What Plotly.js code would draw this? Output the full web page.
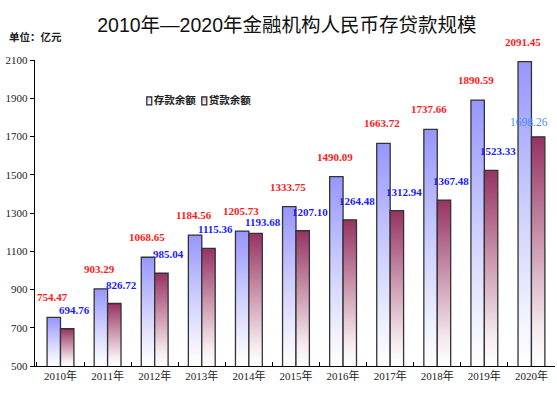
<!DOCTYPE html>
<html>
<head>
<meta charset="utf-8">
<script src="https://cdn.plot.ly/plotly-3.0.1.min.js"></script>
<style>
html,body{margin:0;padding:0;background:#fff;}
#chart{width:557px;height:393px;}
</style>
</head>
<body>
<div id="chart"></div>
<script>
const years = ['2010年','2011年','2012年','2013年','2014年','2015年','2016年','2017年','2018年','2019年','2020年'];
const deposits = [754.47, 903.29, 1068.65, 1184.56, 1205.73, 1333.75, 1490.09, 1663.72, 1737.66, 1890.59, 2091.45];
const loans = [694.76, 826.72, 985.04, 1115.36, 1193.68, 1207.10, 1264.48, 1312.94, 1367.48, 1523.33, 1698.26];
const seriesNames = ['存款余额', '贷款余额'];

const numFont = 'Liberation Serif, Times New Roman, serif';
const cjkFont = 'Noto Sans CJK SC, sans-serif';

const traces = [
  {type:'bar', name: '<b>' + seriesNames[0] + '</b>', x: years, y: deposits,
   marker:{color:'#9999ff', line:{color:'#333333', width:1.3}}, hoverinfo:'none'},
  {type:'bar', name: '<b>' + seriesNames[1] + '</b>', x: years, y: loans,
   marker:{color:'#993366', line:{color:'#333333', width:1.3}}, hoverinfo:'none'}
];

// pixel scale of the y axis (plot height 306 px over 1600 units) used to keep labels apart
const pxPerUnit = 306 / 1600;
const annotations = [];
years.forEach((yr, i) => {
  annotations.push({x: yr, y: deposits[i], text: '<b>' + deposits[i].toFixed(2) + '</b>',
    showarrow:false, xshift:-8, yshift:20, yanchor:'middle', xanchor:'center',
    font:{family:numFont, size:11, color:'#ff1a1a'}});
  const last = i === years.length - 1;
  let ys = 19;
  const sep = (deposits[i] - loans[i]) * pxPerUnit + 20 - ys;
  if (sep < 11) ys = (deposits[i] - loans[i]) * pxPerUnit + 20 - 11;
  annotations.push({x: yr, y: loans[i], text: last ? loans[i].toFixed(2) : '<b>' + loans[i].toFixed(2) + '</b>',
    showarrow:false, xshift: last ? -2 : 14, yshift: last ? 15 : ys, yanchor:'middle', xanchor:'center',
    font:{family:numFont, size: last ? 11.5 : 11, color: last ? '#4a8cf5' : '#1a1aff'}});
});
annotations.push({xref:'paper', yref:'paper', x:-0.054, y:1.076, xanchor:'left', yanchor:'middle',
  text:'<b>单位：亿元</b>', showarrow:false, font:{family:cjkFont, size:10.5, color:'#222'}});

const layout = {
  width:557, height:393,
  margin:{l:35, r:2, t:60, b:27, pad:0},
  paper_bgcolor:'#ffffff', plot_bgcolor:'#ffffff',
  title:{text:'2010年—2020年金融机构人民币存贷款规模', x:0.515, xanchor:'center', y:1-25/393, yanchor:'middle',
    font:{family:'Liberation Sans, Noto Sans CJK SC, sans-serif', size:19.5, color:'#111'}},
  barmode:'group', bargap:0.43, bargroupgap:0,
  showlegend:true,
  legend:{orientation:'h', x:0.1515, y:0.87, xanchor:'left', yanchor:'middle',
    font:{family:cjkFont, size:10.5, color:'#222'}, bgcolor:'rgba(0,0,0,0)', itemwidth:30, tracegroupgap:0},
  xaxis:{type:'category', showline:true, linecolor:'#000', linewidth:1.2, ticks:'inside', tickson:'boundaries',
    ticklen:4, tickcolor:'#000', tickwidth:1, showgrid:false, zeroline:false,
    tickfont:{family:numFont + ', Noto Sans CJK SC', size:11, color:'#222'}},
  yaxis:{range:[500,2100], dtick:200, tick0:500, showline:true, linecolor:'#000', linewidth:1.2, ticks:'outside',
    ticklen:4, tickcolor:'#000', tickwidth:1, showgrid:false, zeroline:false,
    tickfont:{family:numFont, size:11, color:'#222'}},
  annotations: annotations
};

function addGradients(gd){
  const svg = gd.querySelector('svg.main-svg');
  const defs = svg.querySelector('defs');
  const ns = 'http://www.w3.org/2000/svg';
  const plotH = gd._fullLayout._size.h;
  function grad(id, stops, user){
    const g = document.createElementNS(ns, 'linearGradient');
    g.setAttribute('id', id);
    if (user) {
      g.setAttribute('gradientUnits', 'userSpaceOnUse');
      g.setAttribute('x1','0'); g.setAttribute('x2','0');
      g.setAttribute('y1', user[0]); g.setAttribute('y2', user[1]);
    } else {
      g.setAttribute('x1','0'); g.setAttribute('y1','0'); g.setAttribute('x2','0'); g.setAttribute('y2','1');
    }
    stops.forEach(([o,c]) => {
      const s = document.createElementNS(ns, 'stop');
      s.setAttribute('offset', o); s.setAttribute('stop-color', c);
      g.appendChild(s);
    });
    defs.appendChild(g);
  }
  const barStops = [
    [[0,'#9696ff'],[0.5,'#d0d0ff'],[0.85,'#f3f3ff'],[1,'#ffffff']],
    [[0,'#963262'],[0.5,'#d0a0b5'],[0.85,'#f6ecf0'],[1,'#ffffff']]
  ];
  gd.querySelectorAll('.barlayer .trace').forEach((t, k) => {
    t.querySelectorAll('path').forEach((p, i) => {
      const bb = p.getBBox();
      const id = 'bg_' + k + '_' + i;
      grad(id, barStops[k], [bb.y, plotH]);
      p.style.fill = 'url(#' + id + ')';
      p.style.fillOpacity = 1;
    });
  });
  grad('gradDepL', [[0,'#c8c8ff'],[1,'#ffffff']]);
  grad('gradLoanL', [[0,'#d8a8bc'],[1,'#ffffff']]);
  const lids = ['gradDepL','gradLoanL'];
  const items = gd.querySelectorAll('.legend .traces');
  items.forEach((t, k) => {
    t.querySelectorAll('.legendpoints path').forEach(p => {
      p.setAttribute('d', 'M-2.5,4H2.5V-4H-2.5Z');
      p.setAttribute('transform', 'translate(35.5,1)');
      p.style.fill = 'url(#' + lids[k] + ')';
      p.style.stroke = '#222';
      p.style.strokeWidth = '1.2px';
    });
  });
  if (items.length === 2) {
    const m = /translate\(\s*([-\d.]+)[ ,]+([-\d.]+)/.exec(items[0].getAttribute('transform') || 'translate(0,0)');
    const x0 = m ? parseFloat(m[1]) : 0, y0 = m ? parseFloat(m[2]) : 0;
    items[1].setAttribute('transform', 'translate(' + (x0 + 55) + ',' + y0 + ')');
  }
}

Plotly.newPlot('chart', traces, layout, {staticPlot:true, displayModeBar:false}).then(addGradients);
</script>
</body>
</html>
